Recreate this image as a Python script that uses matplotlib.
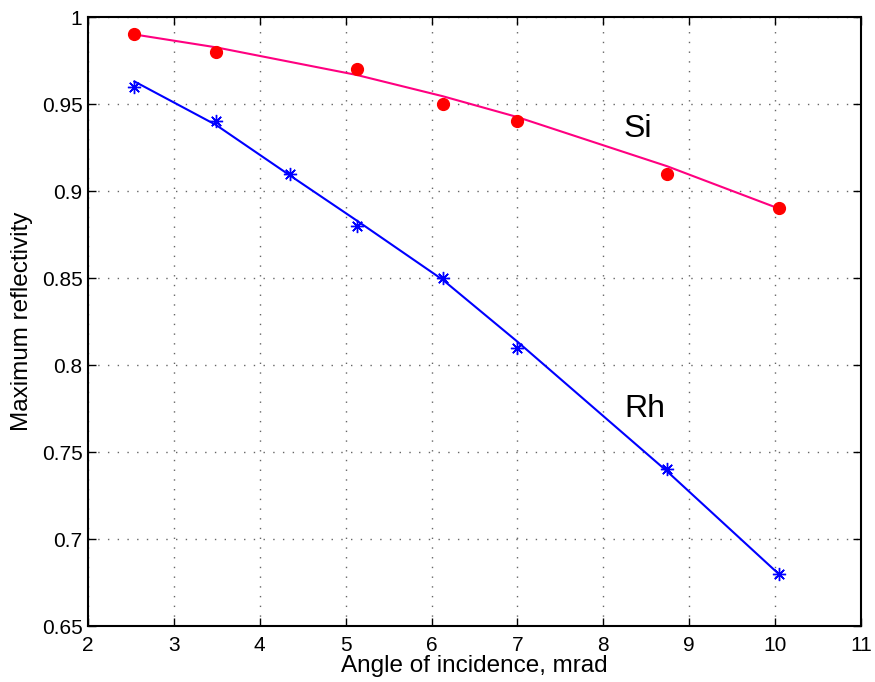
import matplotlib
matplotlib.use('Agg')
import matplotlib.pyplot as plt

plt.rcParams['font.family'] = ['Liberation Sans', 'DejaVu Sans']

# measured maximum reflectivity vs grazing angle
si_angle = [2.54, 3.49, 5.13, 6.13, 7.0, 8.74, 10.04]
si_refl = [0.99, 0.98, 0.97, 0.95, 0.94, 0.91, 0.89]
rh_angle = [2.54, 3.49, 4.35, 5.13, 6.13, 7.0, 8.74, 10.04]
rh_refl = [0.96, 0.94, 0.91, 0.88, 0.85, 0.81, 0.74, 0.68]

# smoothed trend curves evaluated at the same angles
si_fit = [0.990, 0.9826, 0.9667, 0.9545, 0.9425, 0.9143, 0.890]
rh_fit = [0.963, 0.938, 0.909, 0.883, 0.849, 0.8134, 0.739, 0.680]

xticks = [2, 3, 4, 5, 6, 7, 8, 9, 10, 11]
yticks = [0.65, 0.7, 0.75, 0.8, 0.85, 0.9, 0.95, 1]

fig = plt.figure(figsize=(8.75, 6.82), dpi=100)
ax = fig.add_axes([0.1006, 0.0821, 0.8834, 0.8929])

ax.plot(si_angle, si_fit, color='#ff0080', lw=1.5, zorder=3)
ax.plot(si_angle, si_refl, 'o', color='red', ms=8.5, mec='red', zorder=4, ls='none')
ax.plot(rh_angle, rh_fit, color='blue', lw=1.5, zorder=3)
ax.plot(rh_angle, rh_refl, ls='none', marker=(8, 2, 0), color='blue',
        ms=9.5, mew=1.0, zorder=4)

ax.text(8.40, 0.9356, 'Si', fontsize=23, ha='center', va='center')
ax.text(8.48, 0.775, 'Rh', fontsize=23, ha='center', va='center')

ax.set_xlim(2, 11)
ax.set_ylim(0.65, 1)
ax.set_xticks(xticks)
ax.set_xticklabels([str(t) for t in xticks])
ax.set_yticks(yticks)
ax.set_yticklabels(['0.65', '0.7', '0.75', '0.8', '0.85', '0.9', '0.95', '1'])
ax.tick_params(direction='in', top=True, right=True, length=6, width=1,
               labelsize=15)
ax.tick_params(axis='x', pad=7)
ax.tick_params(axis='y', pad=4)
ax.grid(True, color='#666666', ls=(0, (1, 6)), lw=1)
for s in ax.spines.values():
    s.set_linewidth(1.5)

ax.set_xlabel('Angle of incidence, mrad', fontsize=17.5, labelpad=0)
ax.set_ylabel('Maximum reflectivity', fontsize=17.5, labelpad=6)

fig.savefig('out.png', dpi=100)
